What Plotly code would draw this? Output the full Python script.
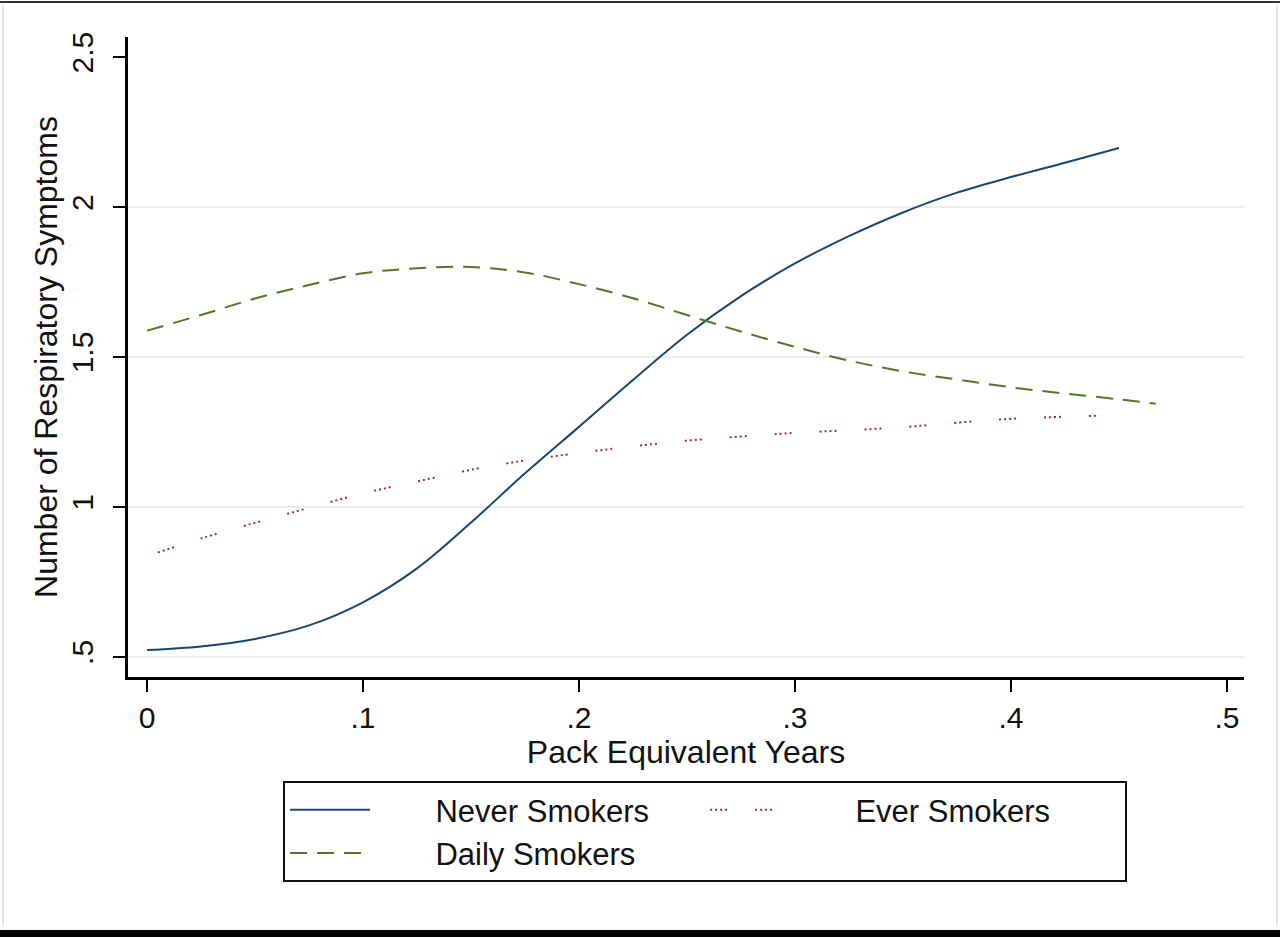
import plotly.graph_objects as go

# values
never_x = [0, .025, .05, .075, .1, .125, .15, .175, .2, .225, .25, .275, .3,
           .325, .35, .375, .4, .425, .45]
never_y = [0.523, 0.535, 0.560, 0.605, 0.682, 0.795, 0.948, 1.112, 1.267, 1.423,
           1.574, 1.703, 1.812, 1.903, 1.982, 2.048, 2.100, 2.148, 2.197]

ever_x = [.005, .025, .05, .075, .1, .125, .15, .175, .2, .225, .25, .275, .3,
          .325, .35, .375, .4, .44]
ever_y = [0.848, 0.895, 0.947, 0.997, 1.045, 1.085, 1.124, 1.155, 1.180, 1.202,
          1.221, 1.235, 1.247, 1.256, 1.266, 1.281, 1.294, 1.304]

daily_x = [0, .025, .05, .075, .1, .125, .15, .175, .2, .225, .25, .275, .3,
           .325, .35, .375, .4, .425, .45, .467]
daily_y = [1.588, 1.640, 1.695, 1.740, 1.779, 1.796, 1.800, 1.782, 1.743, 1.696,
           1.640, 1.585, 1.534, 1.488, 1.452, 1.425, 1.399, 1.378, 1.359, 1.344]

x_ticks = [0, .1, .2, .3, .4, .5]
x_labels = ["0", ".1", ".2", ".3", ".4", ".5"]
y_ticks = [.5, 1, 1.5, 2, 2.5]
y_labels = [".5", "1", "1.5", "2", "2.5"]
grid_vals = [.5, 1, 1.5, 2]

font = "Liberation Sans, Arial, sans-serif"
pad = "\u00a0" * 7  # Stata leaves a wide gap between key and label

fig = go.Figure()
fig.add_trace(go.Scatter(x=never_x, y=never_y, mode="lines",
                         name=pad + "Never Smokers",
                         line=dict(color="#1a476f", width=2, shape="spline")))
fig.add_trace(go.Scatter(x=ever_x, y=ever_y, mode="lines",
                         name=pad + "Ever Smokers",
                         line=dict(color="#90353b", width=2, shape="spline",
                                   dash="2px,3px,2px,3px,2px,3px,2px,28px")))
fig.add_trace(go.Scatter(x=daily_x, y=daily_y, mode="lines",
                         name=pad + "Daily Smokers",
                         line=dict(color="#55752f", width=2, shape="spline",
                                   dash="17px,10px")))

# gridlines only at the inner ticks, on an overlay axis
fig.add_trace(go.Scatter(x=[None], y=[None], yaxis="y2", showlegend=False,
                         hoverinfo="skip"))

fig.update_layout(
    width=1280, height=939,
    margin=dict(l=128, r=36, t=37, b=262),
    paper_bgcolor="white", plot_bgcolor="white",
    font=dict(family=font, color="#111", size=30),
    xaxis=dict(range=[-0.0088, 0.5079], tickvals=x_ticks, ticktext=x_labels,
               showline=True, linecolor="black", linewidth=2.5,
               ticks="outside", ticklen=12, tickwidth=2, tickcolor="black",
               showgrid=False, zeroline=False, tickfont=dict(size=30),
               title=dict(text="Pack Equivalent Years", font=dict(size=32),
                          standoff=2)),
    yaxis=dict(range=[0.433, 2.567], tickvals=y_ticks, ticktext=y_labels,
               showline=True, linecolor="black", linewidth=2.5,
               ticks="outside", ticklen=12, tickwidth=2, tickcolor="black",
               tickangle=-90, showgrid=False, zeroline=False,
               tickfont=dict(size=30), ticklabelstandoff=8,
               title=dict(text="Number of Respiratory Symptoms",
                          font=dict(size=32), standoff=0)),
    yaxis2=dict(range=[0.433, 2.567], overlaying="y", tickvals=grid_vals,
                showticklabels=False, showgrid=True, gridcolor="#e6eef0",
                gridwidth=1.5, zeroline=False, layer="below traces"),
    legend=dict(orientation="h", x=0.139, y=-0.1625, xanchor="left",
                yanchor="top", bordercolor="#111", borderwidth=2,
                bgcolor="white", font=dict(size=31), itemwidth=80,
                entrywidth=325, tracegroupgap=0),
    shapes=[
        dict(type="line", xref="paper", yref="paper", x0=-0.12, x1=1.04,
             y0=1.0547, y1=1.0547, line=dict(color="#333", width=2)),
        dict(type="rect", xref="paper", yref="paper", x0=-0.12, x1=1.04,
             y0=-0.40625, y1=-0.3953, fillcolor="black", line=dict(width=0)),
        dict(type="line", xref="paper", yref="paper", x0=-0.112, x1=-0.112,
             y0=-0.39, y1=1.05, line=dict(color="#e4e8ea", width=2)),
        dict(type="line", xref="paper", yref="paper", x0=1.0296, x1=1.0296,
             y0=-0.39, y1=1.05, line=dict(color="#e4e8ea", width=2)),
    ],
)

# drop the browser's default body margin so the figure sits at the page corner
fig.write_html("out.html", config={"displayModeBar": False},
               post_script="document.body.style.margin='0';")
